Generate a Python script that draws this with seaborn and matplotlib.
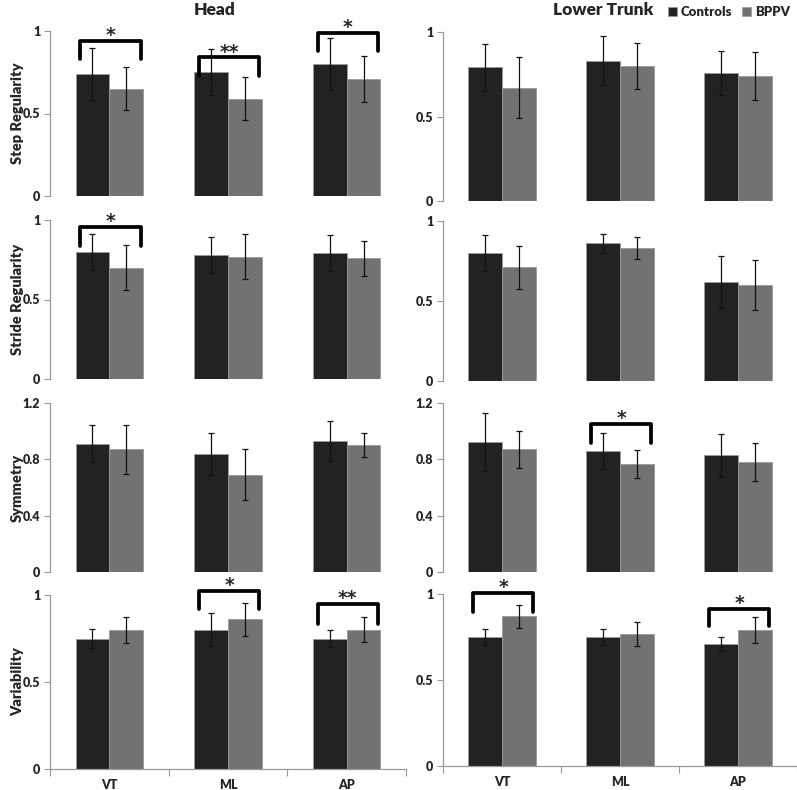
import numpy as np
import pandas as pd
import seaborn as sns
import matplotlib.pyplot as plt
from matplotlib.patches import Patch

directions = ["VT", "ML", "AP"]
groups = ["Controls", "BPPV"]
metrics = ["Step Regularity", "Stride Regularity", "Symmetry", "Variability"]
locations = ["Head", "Lower Trunk"]

# means and SD per direction (VT, ML, AP)
step_head_ctrl = [0.74, 0.75, 0.80]
step_head_ctrl_sd = [0.16, 0.14, 0.16]
step_head_bppv = [0.65, 0.59, 0.71]
step_head_bppv_sd = [0.13, 0.13, 0.14]
step_trunk_ctrl = [0.79, 0.83, 0.76]
step_trunk_ctrl_sd = [0.14, 0.145, 0.13]
step_trunk_bppv = [0.67, 0.80, 0.74]
step_trunk_bppv_sd = [0.18, 0.135, 0.14]

stride_head_ctrl = [0.80, 0.78, 0.79]
stride_head_ctrl_sd = [0.115, 0.113, 0.113]
stride_head_bppv = [0.70, 0.77, 0.76]
stride_head_bppv_sd = [0.14, 0.144, 0.111]
stride_trunk_ctrl = [0.80, 0.86, 0.62]
stride_trunk_ctrl_sd = [0.11, 0.06, 0.163]
stride_trunk_bppv = [0.71, 0.83, 0.60]
stride_trunk_bppv_sd = [0.135, 0.067, 0.158]

sym_head_ctrl = [0.91, 0.84, 0.93]
sym_head_ctrl_sd = [0.132, 0.149, 0.142]
sym_head_bppv = [0.87, 0.69, 0.90]
sym_head_bppv_sd = [0.173, 0.182, 0.085]
sym_trunk_ctrl = [0.92, 0.86, 0.83]
sym_trunk_ctrl_sd = [0.206, 0.126, 0.153]
sym_trunk_bppv = [0.87, 0.77, 0.78]
sym_trunk_bppv_sd = [0.132, 0.099, 0.137]

var_head_ctrl = [0.75, 0.80, 0.75]
var_head_ctrl_sd = [0.054, 0.094, 0.048]
var_head_bppv = [0.80, 0.86, 0.80]
var_head_bppv_sd = [0.075, 0.093, 0.071]
var_trunk_ctrl = [0.75, 0.75, 0.71]
var_trunk_ctrl_sd = [0.046, 0.046, 0.039]
var_trunk_bppv = [0.87, 0.77, 0.79]
var_trunk_bppv_sd = [0.068, 0.07, 0.075]

# significance brackets: metric, location, direction, top, leg end, stars
sig_marks = [
    ("Step Regularity", "Head", "VT", 0.94, 0.83, "*"),
    ("Step Regularity", "Head", "ML", 0.84, 0.73, "**"),
    ("Step Regularity", "Head", "AP", 0.99, 0.88, "*"),
    ("Stride Regularity", "Head", "VT", 0.958, 0.839, "*"),
    ("Symmetry", "Lower Trunk", "ML", 1.051, 0.916, "*"),
    ("Variability", "Head", "ML", 1.023, 0.918, "*"),
    ("Variability", "Head", "AP", 0.947, 0.836, "**"),
    ("Variability", "Lower Trunk", "VT", 1.006, 0.895, "*"),
    ("Variability", "Lower Trunk", "AP", 0.913, 0.816, "*"),
]

panels = {
    ("Step Regularity", "Head"): (step_head_ctrl, step_head_ctrl_sd, step_head_bppv, step_head_bppv_sd),
    ("Step Regularity", "Lower Trunk"): (step_trunk_ctrl, step_trunk_ctrl_sd, step_trunk_bppv, step_trunk_bppv_sd),
    ("Stride Regularity", "Head"): (stride_head_ctrl, stride_head_ctrl_sd, stride_head_bppv, stride_head_bppv_sd),
    ("Stride Regularity", "Lower Trunk"): (stride_trunk_ctrl, stride_trunk_ctrl_sd, stride_trunk_bppv, stride_trunk_bppv_sd),
    ("Symmetry", "Head"): (sym_head_ctrl, sym_head_ctrl_sd, sym_head_bppv, sym_head_bppv_sd),
    ("Symmetry", "Lower Trunk"): (sym_trunk_ctrl, sym_trunk_ctrl_sd, sym_trunk_bppv, sym_trunk_bppv_sd),
    ("Variability", "Head"): (var_head_ctrl, var_head_ctrl_sd, var_head_bppv, var_head_bppv_sd),
    ("Variability", "Lower Trunk"): (var_trunk_ctrl, var_trunk_ctrl_sd, var_trunk_bppv, var_trunk_bppv_sd),
}

sns.set_style("white")
plt.rcParams['font.family'] = ['Lato', 'DejaVu Sans']
plt.rcParams['font.weight'] = 'heavy'

W, H = 797, 790
fig = plt.figure(figsize=(W / 100, H / 100), dpi=100)
colors = {"Controls": "#222222", "BPPV": "#727272"}

# axes box in pixels: x0, x1, ytop, ybottom
col_x = {"Head": (50, 406), "Lower Trunk": (443, 797)}
row_y = {
    ("Step Regularity", "Head"): (31, 196), ("Step Regularity", "Lower Trunk"): (32, 201),
    ("Stride Regularity", "Head"): (220, 379), ("Stride Regularity", "Lower Trunk"): (221, 381),
    ("Symmetry", "Head"): (403, 572), ("Symmetry", "Lower Trunk"): (403, 572),
    ("Variability", "Head"): (595, 769), ("Variability", "Lower Trunk"): (594, 766),
}

axes = {}
for metric in metrics:
    for loc in locations:
        x0, x1 = col_x[loc]
        yt, yb = row_y[(metric, loc)]
        ax = fig.add_axes([x0 / W, 1 - yb / H, (x1 - x0) / W, (yb - yt) / H])
        axes[(metric, loc)] = ax
        ctrl, ctrl_sd, bppv, bppv_sd = panels[(metric, loc)]
        df = pd.DataFrame({
            "direction": directions * 2,
            "group": ["Controls"] * 3 + ["BPPV"] * 3,
            "value": list(ctrl) + list(bppv),
        })
        sds = {"Controls": ctrl_sd, "BPPV": bppv_sd}
        sns.barplot(data=df, x="direction", y="value", hue="group", order=directions,
                    hue_order=groups, palette=colors, width=0.57, errorbar=None,
                    legend=False, edgecolor="#9a9a9a", linewidth=0.6, ax=ax)
        for g, cont in zip(groups, ax.containers):
            for bar in cont:
                xc = bar.get_x() + bar.get_width() / 2
                i = int(round(xc))
                ax.errorbar(xc, bar.get_height(), yerr=sds[g][i], fmt="none",
                            ecolor="#111111", elinewidth=0.9, capsize=2.5, capthick=0.9)

        top = 1.2 if metric == "Symmetry" else 1.0
        ax.set_ylim(0, top)
        ax.set_xlim(-0.5, 2.5)
        if metric == "Symmetry":
            ax.set_yticks([0, 0.4, 0.8, 1.2])
            ax.set_yticklabels(["0", "0.4", "0.8", "1.2"], fontweight="heavy")
        else:
            ax.set_yticks([0, 0.5, 1])
            ax.set_yticklabels(["0", "0.5", "1"], fontweight="heavy")
        ax.tick_params(axis="y", left=True, length=4, width=0.8, color="#999999",
                       labelsize=9, pad=3)
        for s in ["top", "right"]:
            ax.spines[s].set_visible(False)
        ax.spines["left"].set_color("#999999")
        ax.spines["left"].set_linewidth(0.9)
        ax.set_xlabel("")
        ax.set_ylabel("")
        if metric == "Variability":
            ax.spines["bottom"].set_color("#999999")
            ax.spines["bottom"].set_linewidth(0.9)
            ax.set_xticks(range(3))
            ax.set_xticklabels(directions, fontweight="heavy")
            ax.tick_params(axis="x", which="major", length=0, labelsize=9, pad=7)
            ax.set_xticks([-0.5, 0.5, 1.5, 2.5], minor=True)
            ax.tick_params(axis="x", which="minor", bottom=True, length=5,
                           width=0.8, color="#999999")
        else:
            ax.spines["bottom"].set_visible(False)
            ax.tick_params(axis="x", bottom=False, labelbottom=False)
        if loc == "Head":
            ax.set_ylabel(metric, fontsize=10.5, fontweight="heavy")
            ax.yaxis.set_label_coords(-0.073, 0.5)

# significance brackets
for metric, loc, d, ytop, yleg, stars in sig_marks:
    ax = axes[(metric, loc)]
    i = directions.index(d)
    c_bar = ax.containers[0][i]
    b_bar = ax.containers[1][i]
    xl = c_bar.get_x() + 0.04
    xr = b_bar.get_x() + b_bar.get_width() - 0.02
    ax.plot([xl, xl, xr, xr], [yleg, ytop, ytop, yleg], color="black", lw=2.7,
            solid_joinstyle="round", solid_capstyle="round", clip_on=False)
    ax.annotate(stars, xy=((xl + xr) / 2, ytop), xytext=(0, -3), textcoords="offset points",
                ha="center", va="bottom", fontsize=13.5, fontweight="bold",
                family="DejaVu Sans", annotation_clip=False)

fig.text(215 / W, 1 - 10 / H, "Head", ha="center", va="center", fontsize=12.5, fontweight="heavy")
fig.text(603 / W, 1 - 10 / H, "Lower Trunk", ha="center", va="center", fontsize=12.5, fontweight="heavy")

handles = [Patch(facecolor=colors[g], edgecolor="#9a9a9a", linewidth=0.5, label=g) for g in groups]
fig.legend(handles=handles, loc="upper right", bbox_to_anchor=(790 / W, 1 - 6 / H), ncol=2,
           frameon=False, handlelength=0.7, handleheight=0.7, handletextpad=0.3,
           columnspacing=0.7, prop={"size": 9.5, "weight": "heavy"},
           borderaxespad=0, borderpad=0)

fig.savefig("out.png", dpi=100)
